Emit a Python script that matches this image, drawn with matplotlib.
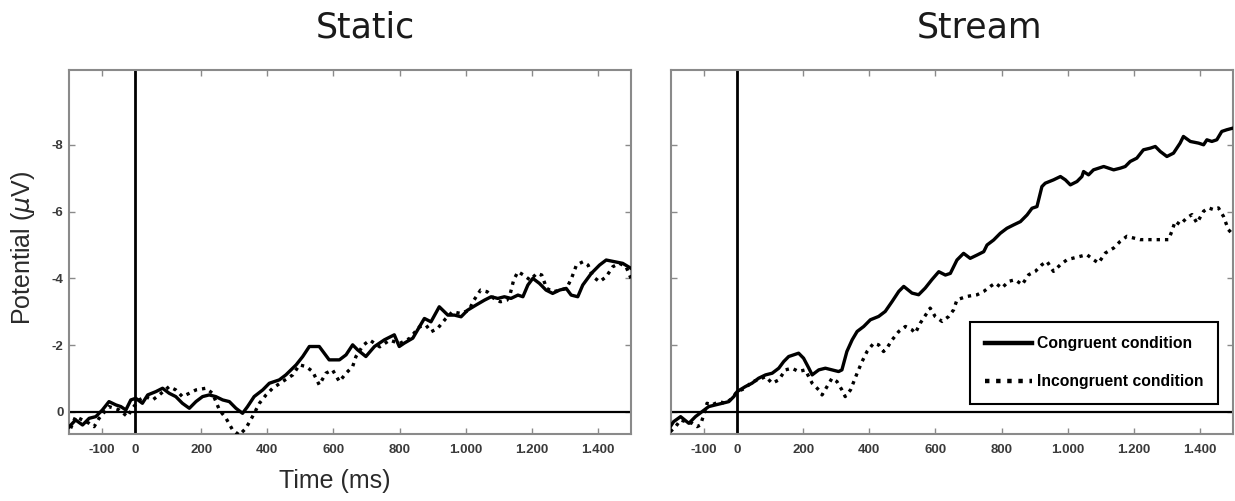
import matplotlib
matplotlib.use("Agg")
import matplotlib.pyplot as plt
from matplotlib.lines import Line2D

# ---------------- data (time in ms, potential in µV) ----------------
static_cong_t = [-200,-180,-159,-139,-119,-99,-79,-58,-43,-28,
                 -13,2,22,38,63,83,103,123,143,164,
                 184,204,224,244,265,285,305,325,340,360,
                 386,406,436,456,487,507,527,557,587,618,
                 638,658,673,698,724,754,784,799,814,840,
                 860,875,895,920,946,966,986,1006,1031,1057,
                 1077,1097,1117,1137,1158,1173,1188,1203,1223,1243,
                 1263,1284,1304,1319,1339,1354,1380,1405,1425,1450,
                 1475,1500]
static_cong_v = [0.45,0.24,0.39,0.19,0.14,-0.06,-0.31,-0.21,-0.16,-0.06,
                 -0.36,-0.41,-0.26,-0.51,-0.61,-0.71,-0.56,-0.46,-0.26,-0.11,
                 -0.31,-0.46,-0.51,-0.46,-0.36,-0.31,-0.11,0.04,-0.16,-0.46,
                 -0.66,-0.86,-0.96,-1.11,-1.41,-1.66,-1.96,-1.96,-1.56,-1.56,
                 -1.71,-2.01,-1.86,-1.66,-1.96,-2.16,-2.31,-1.96,-2.06,-2.21,
                 -2.55,-2.80,-2.70,-3.15,-2.90,-2.90,-2.85,-3.05,-3.20,-3.35,
                 -3.45,-3.40,-3.45,-3.40,-3.50,-3.45,-3.80,-4.00,-3.85,-3.65,
                 -3.55,-3.65,-3.70,-3.50,-3.45,-3.80,-4.15,-4.40,-4.55,-4.50,
                 -4.45,-4.30]

static_incong_t = [-195,-180,-159,-139,-124,-109,-79,-48,-23,-8,
                   12,32,53,73,103,123,143,164,184,214,
                   234,255,275,295,315,335,355,376,396,416,
                   446,477,497,517,537,557,577,597,618,638,
                   658,668,690,710,740,770,800,830,860,880,
                   895,915,940,960,985,1010,1025,1045,1065,1085,
                   1105,1125,1135,1145,1158,1175,1195,1215,1230,1245,
                   1265,1285,1305,1320,1335,1355,1370,1385,1405,1425,
                   1445,1465,1485,1500]
static_incong_v = [0.49,0.14,0.24,0.34,0.44,0.19,-0.16,-0.06,0.14,-0.11,
                   -0.36,-0.46,-0.36,-0.51,-0.76,-0.66,-0.46,-0.56,-0.66,-0.71,
                   -0.56,-0.06,0.19,0.54,0.69,0.49,0.14,-0.26,-0.51,-0.71,
                   -0.91,-1.11,-1.41,-1.36,-1.21,-0.81,-1.16,-1.26,-0.91,-1.16,
                   -1.36,-1.66,-2.0,-2.15,-1.95,-2.15,-2.05,-2.2,-2.55,-2.6,
                   -2.4,-2.5,-2.8,-3.0,-2.95,-3.05,-3.35,-3.65,-3.6,-3.4,
                   -3.3,-3.35,-3.55,-3.95,-4.2,-4.1,-3.95,-4.15,-4.1,-3.7,
                   -3.6,-3.65,-3.7,-4.0,-4.4,-4.5,-4.4,-4.05,-3.9,-4.05,
                   -4.35,-4.45,-4.35,-4.0]

stream_cong_t = [-202,-192,-171,-146,-126,-106,-86,-66,-45,-25,
                 -10,0,25,45,65,86,106,126,141,156,
                 171,186,201,217,227,247,267,287,307,317,
                 332,348,363,383,403,428,448,469,489,504,
                 529,549,569,589,610,630,645,665,685,705,
                 726,746,756,776,796,816,836,857,877,892,
                 907,922,932,957,978,993,1008,1028,1043,1048,
                 1063,1078,1109,1124,1139,1159,1174,1189,1209,1229,
                 1250,1265,1280,1300,1320,1340,1350,1371,1396,1411,
                 1421,1436,1451,1466,1481,1500]
stream_cong_v = [0.44,0.29,0.14,0.34,0.14,-0.01,-0.16,-0.21,-0.26,-0.31,
                 -0.46,-0.61,-0.76,-0.86,-1.01,-1.11,-1.16,-1.31,-1.51,-1.66,
                 -1.71,-1.76,-1.61,-1.31,-1.11,-1.26,-1.31,-1.26,-1.21,-1.26,
                 -1.81,-2.16,-2.41,-2.56,-2.76,-2.86,-3.01,-3.31,-3.61,-3.76,
                 -3.56,-3.51,-3.71,-3.96,-4.2,-4.1,-4.15,-4.55,-4.75,-4.6,
                 -4.7,-4.8,-5.0,-5.15,-5.35,-5.5,-5.6,-5.7,-5.9,-6.1,
                 -6.15,-6.75,-6.85,-6.95,-7.05,-6.95,-6.8,-6.9,-7.05,-7.2,
                 -7.1,-7.25,-7.35,-7.3,-7.25,-7.3,-7.35,-7.5,-7.6,-7.85,
                 -7.9,-7.95,-7.8,-7.65,-7.75,-8.05,-8.25,-8.1,-8.05,-8.0,
                 -8.15,-8.1,-8.15,-8.4,-8.45,-8.5]

stream_incong_t = [-202,-186,-171,-156,-136,-121,-111,-101,-91,-76,
                   -55,-35,-15,0,25,45,65,86,106,126,
                   146,166,186,206,227,247,257,272,287,302,
                   317,327,343,363,378,393,413,428,443,453,
                   469,489,509,529,539,554,574,584,599,620,
                   640,655,665,695,726,746,766,781,801,821,
                   841,862,882,902,922,937,957,978,998,1018,
                   1038,1058,1078,1093,1114,1139,1159,1179,1199,1219,
                   1250,1280,1305,1315,1325,1340,1360,1376,1391,1411,
                   1426,1441,1456,1471,1486,1500]
stream_incong_v = [0.59,0.44,0.24,0.29,0.34,0.44,0.39,0.09,-0.26,-0.21,
                   -0.31,-0.26,-0.41,-0.61,-0.71,-0.91,-0.96,-1.06,-0.86,-0.96,
                   -1.26,-1.31,-1.21,-1.26,-0.86,-0.66,-0.51,-0.76,-1.01,-0.91,
                   -0.66,-0.46,-0.66,-1.16,-1.51,-1.81,-2.06,-2.01,-1.81,-1.91,
                   -2.16,-2.41,-2.56,-2.46,-2.36,-2.66,-2.96,-3.11,-2.86,-2.71,
                   -2.86,-3.06,-3.36,-3.46,-3.51,-3.61,-3.76,-3.86,-3.71,-3.91,
                   -3.96,-3.81,-4.11,-4.21,-4.41,-4.51,-4.21,-4.41,-4.56,-4.61,
                   -4.66,-4.71,-4.56,-4.46,-4.76,-4.91,-5.11,-5.26,-5.21,-5.16,
                   -5.16,-5.16,-5.16,-5.41,-5.71,-5.61,-5.81,-5.91,-5.66,-6.01,
                   -6.11,-6.06,-6.11,-5.86,-5.46,-5.31]

titles = ["Static", "Stream"]
legend_labels = ["Congruent condition", "Incongruent condition"]
x_ticks = [-100, 0, 200, 400, 600, 800, 1000, 1200, 1400]
x_tick_labels = ["-100", "0", "200", "400", "600", "800", "1.000", "1.200", "1.400"]
y_ticks = [0, -2, -4, -6, -8]
y_tick_labels = ["0", "-2", "-4", "-6", "-8"]

# ---------------- figure ----------------
W, H = 1235, 501
fig = plt.figure(figsize=(W / 100, H / 100), dpi=100)
fig.patch.set_facecolor("white")

def fx(px):
    return px / W

def fy(py):
    return 1 - py / H

axes_px = [(69, 631), (671, 1233)]
top_px, bot_px = 70, 434
DOT = (0, (1, 1.5))
spine_col = "#8a8a8a"
tick_font = dict(family="Liberation Sans", weight="bold", size=9.5)

series = [
    (static_cong_t, static_cong_v, static_incong_t, static_incong_v),
    (stream_cong_t, stream_cong_v, stream_incong_t, stream_incong_v),
]

axs = []
for i, (x0, x1) in enumerate(axes_px):
    ax = fig.add_axes([fx(x0), fy(bot_px), (x1 - x0) / W, (bot_px - top_px) / H])
    axs.append(ax)
    ct, cv, it, iv = series[i]
    ax.axhline(0, color="black", lw=1.6, zorder=2)
    ax.axvline(0, color="black", lw=2.0, zorder=2)
    ax.plot(ct, cv, color="black", lw=2.4, solid_joinstyle="round", zorder=3)
    ax.plot(it, iv, color="black", lw=2.4, linestyle=DOT, zorder=3)
    ax.set_xlim(-200, 1500)
    ax.set_ylim(0.66, -10.24)
    ax.set_xticks(x_ticks)
    ax.set_yticks(y_ticks)
    ax.set_xticklabels(x_tick_labels, fontdict=tick_font, color="#3a3a3a")
    if i == 0:
        ax.set_yticklabels(y_tick_labels, fontdict=tick_font, color="#3a3a3a")
    else:
        ax.set_yticklabels([])
    ax.tick_params(axis="both", direction="in", length=4, width=1,
                   color=spine_col, top=True, right=True)
    ax.tick_params(axis="x", pad=7)
    ax.tick_params(axis="y", pad=4)
    for s in ax.spines.values():
        s.set_color(spine_col)
        s.set_linewidth(1.5)

# titles
fig.text(fx(365), fy(37), titles[0], ha="center", va="baseline",
         fontsize=25, family="DejaVu Sans", color="#1a1a1a")
fig.text(fx(980), fy(37), titles[1], ha="center", va="baseline",
         fontsize=25, family="DejaVu Sans", color="#1a1a1a")

# axis labels
fig.text(fx(23), fy(248), r"Potential ($\mu$V)", rotation=90, ha="center",
         va="center", fontsize=18, family="Liberation Sans", color="#2a2a2a")
fig.text(fx(335), fy(488), "Time (ms)", ha="center", va="baseline",
         fontsize=18, family="Liberation Sans", color="#2a2a2a")

# legend
handles = [Line2D([], [], color="black", lw=3.2),
           Line2D([], [], color="black", lw=3.2, linestyle=DOT)]
leg = axs[1].legend(handles, legend_labels, loc="upper left",
                    bbox_to_anchor=(0.532, 0.309), borderaxespad=0,
                    frameon=True, fancybox=False, handlelength=3.0,
                    handletextpad=0.3, labelspacing=1.45, borderpad=0.95,
                    prop=dict(family="Liberation Sans", weight="bold", size=11.3))
leg.get_frame().set_edgecolor("black")
leg.get_frame().set_linewidth(1.5)
leg.get_frame().set_alpha(1)

fig.savefig("out.png", dpi=100, facecolor="white")
